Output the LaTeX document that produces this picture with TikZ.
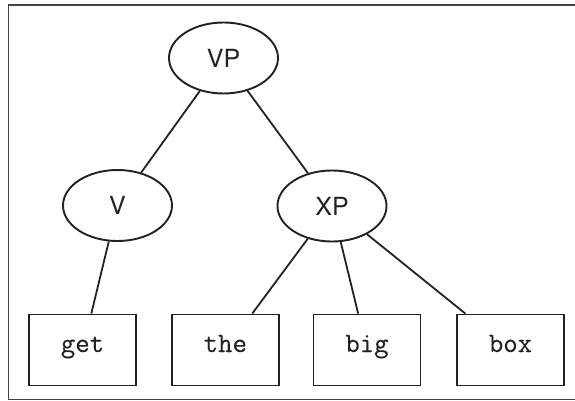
\documentclass[tikz,border=0pt]{standalone}
\usepackage{fontspec}
\setsansfont{TeX Gyre Heros}
\setmonofont[FakeBold=0.15]{Latin Modern Mono}
\usetikzlibrary{shapes.geometric}
\definecolor{ink}{HTML}{222222}
\definecolor{framegray}{HTML}{444444}
\tikzset{
  phrase/.style={ellipse, draw=ink, line width=1.9pt, inner sep=0pt,
    minimum width=109pt, minimum height=71pt,
    font=\sffamily\fontsize{25}{25}\selectfont, text=ink},
  word/.style={rectangle, draw=ink, line width=1.9pt, inner sep=0pt,
    minimum width=107pt, minimum height=71pt,
    text height=0.6em, text depth=0.2em,
    font=\ttfamily\fontsize{28}{28}\selectfont, text=ink},
  branch/.style={draw=ink, line width=1.8pt}
}
\begin{document}
\begin{tikzpicture}[x=1pt, y=-1pt]
  \useasboundingbox (0,0) rectangle (575,401);
  % outer frame (right side runs past the page edge)
  \draw[framegray, line width=1.6pt] (590,5) -- (8.5,5) -- (8.5,399.5) -- (590,399.5);

  % phrase nodes
  \node[phrase] (VP) at (223.5,58) {VP};
  \node[phrase] (V)  at (117.5,205.5) {V};
  \node[phrase] (XP) at (332,206) {XP};

  % word nodes
  \node[word] (get) at (82.5,350) {get};
  \node[word] (the) at (225.3,350) {the};
  \node[word] (big) at (367,350) {big};
  \node[word] (box) at (510.5,350) {box};

  % branches
  \draw[branch] (VP) -- (V);
  \draw[branch] (VP) -- (XP);
  \draw[branch] (V) -- (get);
  \draw[branch] (XP) -- (the);
  \draw[branch] (XP) -- (big);
  \draw[branch] (XP) -- (box);
\end{tikzpicture}
\end{document}
